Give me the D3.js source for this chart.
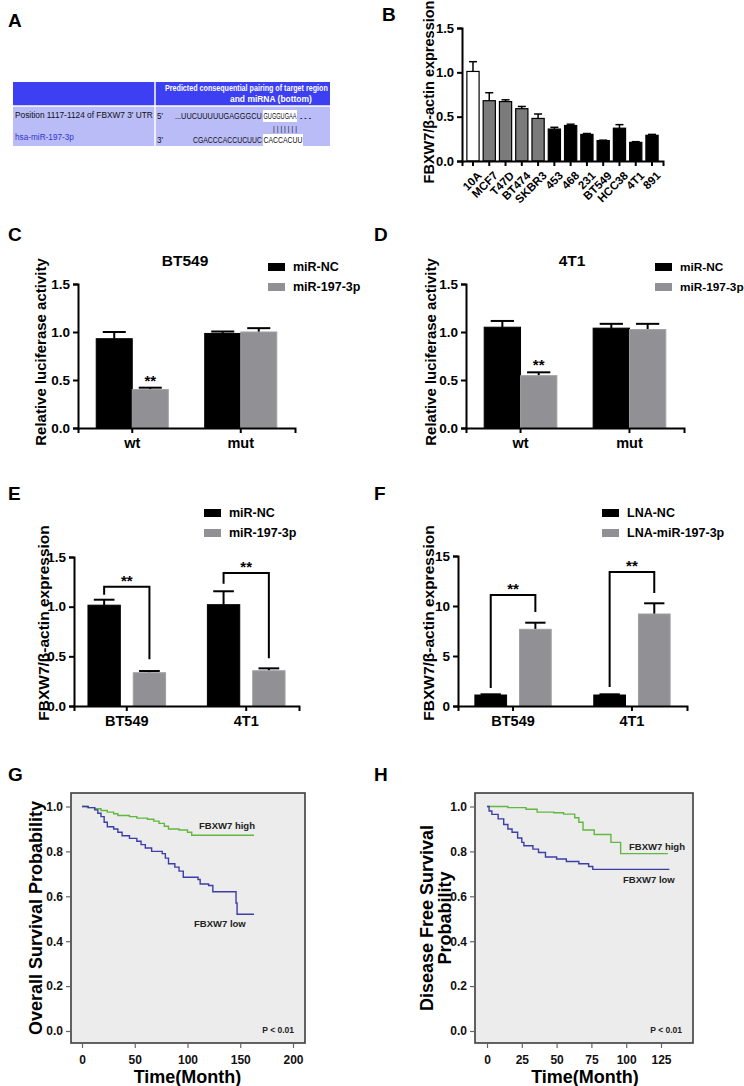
<!DOCTYPE html>
<html><head><meta charset="utf-8">
<script src="https://cdn.jsdelivr.net/npm/d3@7"></script>
<style>
body{margin:0;background:#fff}
svg{display:block}
text{font-family:"Liberation Sans",Arial,Helvetica,sans-serif}
</style>
</head><body>
<svg id="c" width="744" height="1086"></svg>
<script>
// ---------------- DATA ----------------
// Panel B
const bLines = ["10A","MCF7","T47D","BT474","SKBR3","453","468","231","BT549","HCC38","4T1","891"];
const bVals  = [1.01,0.68,0.67,0.59,0.48,0.36,0.40,0.30,0.23,0.37,0.21,0.29];
const bErrs  = [0.11,0.09,0.02,0.025,0.05,0.02,0.015,0.01,0.005,0.04,0.008,0.01];
const bType  = ["normal","luminal","luminal","luminal","luminal","basal","basal","basal","basal","basal","basal","basal"];
const yTicks15 = [0,0.5,1.0,1.5];
// Panels C / D (luciferase)
const lucGroups = ["wt","mut"];
const lucSeries = ["miR-NC","miR-197-3p"];
const cNC = [0.93,0.985], cNCerr = [0.07,0.02];
const cMiR = [0.40,1.00], cMiRerr = [0.02,0.04];
const dNC = [1.05,1.04], dNCerr = [0.065,0.045];
const dMiR = [0.545,1.025], dMiRerr = [0.035,0.06];
// Panels E / F
const cellGroups = ["BT549","4T1"];
const eNC = [1.015,1.02], eNCerr = [0.055,0.135];
const eMiR = [0.335,0.355], eMiRerr = [0.017,0.024];
const eBracketTop = [1.20,1.34], eBracketLeft = [1.12,1.23], eBracketRight = [0.47,0.48];
const lnaSeries = ["LNA-NC","LNA-miR-197-3p"];
const fNC = [1.1,1.1], fNCerr = [0.07,0.07];
const fLNA = [7.67,9.2], fLNAerr = [0.66,1.07];
const fTicks = [0,5,10,15];
const fBracketTop = [11.1,13.4], fBracketLeft = [1.8,1.9], fBracketRight = [9.4,11.3];
// Panels G / H (Kaplan-Meier, [month, survival])
const gHigh = [[0,1],[5,0.995],[12,0.99],[18,0.982],[24,0.975],[30,0.968],[34,0.96],[45,0.955],[52,0.948],[62,0.943],[68,0.935],[73,0.925],[78,0.912],[82,0.9],[92,0.895],[100,0.885],[104,0.872],[163,0.872]];
const gLow  = [[0,1],[6,0.995],[12,0.985],[15,0.97],[18,0.955],[21,0.93],[24,0.91],[30,0.9],[34,0.885],[38,0.87],[45,0.858],[52,0.845],[56,0.83],[60,0.815],[66,0.8],[76,0.79],[79,0.77],[82,0.745],[88,0.73],[92,0.712],[96,0.685],[110,0.675],[112,0.655],[120,0.648],[124,0.62],[145,0.62],[146,0.57],[147,0.52],[163,0.52]];
const hHigh = [[0,1],[15,0.995],[28,0.988],[36,0.975],[48,0.972],[55,0.966],[63,0.95],[66,0.93],[69,0.895],[77,0.875],[89,0.84],[96,0.79],[130,0.79]];
const hLow  = [[0,1],[1.5,0.98],[3.5,0.965],[8,0.945],[12,0.92],[15,0.9],[18,0.885],[22,0.86],[25,0.84],[26.5,0.825],[33,0.81],[37,0.795],[42,0.775],[50,0.766],[57,0.755],[66,0.745],[73,0.733],[76,0.72],[131,0.72]];
const gXTicks = [0,50,100,150,200];
const hXTicks = [0,25,50,75,100,125];
const kmYTicks = [0,0.2,0.4,0.6,0.8,1.0];

// ---------------- DRAW ----------------
const svg = d3.select("#c");
const FONT = '"Liberation Sans",Arial,sans-serif';
const GRAY = "#909095";

function label(t, x, y){
  svg.append("text").attr("x",x).attr("y",y).attr("font-size",19).attr("font-weight","bold").text(t);
}
function styleAxis(g, w){
  g.select(".domain").attr("stroke","#000").attr("stroke-width",w||2);
  g.selectAll(".tick line").attr("stroke","#000").attr("stroke-width",w||2);
  g.selectAll(".tick text").attr("font-family",FONT).attr("font-weight","bold").attr("fill","#000");
}
function yTitle(t, x, y, fs){
  svg.append("text").attr("transform",`translate(${x},${y}) rotate(-90)`).attr("text-anchor","middle")
    .attr("font-size",fs||15).attr("font-weight","bold").text(t);
}
// text squeezed horizontally to an exact width
function fitText(g, str, x, y, width, fs, opts){
  const t = g.append("text").attr("x",0).attr("y",0).attr("font-size",fs).text(str);
  if(opts){ Object.entries(opts).forEach(([k,v])=>t.attr(k,v)); }
  const len = t.node().getComputedTextLength();
  t.attr("transform",`translate(${x},${y}) scale(${width/len},1)`);
  return t;
}

// ---- Panel A: table ----
label("A", 8, 27);
(function(){
  const g = svg.append("g");
  g.append("rect").attr("x",13).attr("y",82).attr("width",317).attr("height",24).attr("fill","#3c3ff2");
  g.append("rect").attr("x",13).attr("y",106).attr("width",317).attr("height",40).attr("fill","#b9bcf7");
  g.append("line").attr("x1",155).attr("x2",155).attr("y1",82).attr("y2",146).attr("stroke","#fff").attr("stroke-width",1.5);
  g.append("line").attr("x1",13).attr("x2",330).attr("y1",106).attr("y2",106).attr("stroke","#fff").attr("stroke-width",1.5);
  const hb = {"font-weight":"bold", fill:"#fff"};
  fitText(g,"Predicted consequential pairing of target region",165,91,163,8.5,hb);
  fitText(g,"and miRNA (bottom)",230,102,82,8.5,hb);
  fitText(g,"Position 1117-1124 of FBXW7 3' UTR",15,118,138,9,{fill:"#111"});
  fitText(g,"hsa-miR-197-3p",15,140,59,9,{fill:"#3434c8"});
  // highlights
  g.append("rect").attr("x",263).attr("y",110).attr("width",34).attr("height",12).attr("fill","#fff");
  g.append("rect").attr("x",263).attr("y",134).attr("width",40).attr("height",12).attr("fill","#fff");
  const so = {fill:"#111"};
  fitText(g,"5'",157,119,6,9,so);
  fitText(g,"...UUCUUUUUGAGGGCU",175,119,87,9,so);
  fitText(g,"GUGGUGAA",263.5,119,33,9,so);
  fitText(g,"...",299,119,13,9,so);
  fitText(g,"| | | | | | |",273,131,24,8,so);
  fitText(g,"3'",157,143,6,9,so);
  fitText(g,"CGACCCACCUCUUC",193,143,69,9,so);
  fitText(g,"CACCACUU",263.5,143,39,9,so);
})();

// ---- Panel B ----
label("B", 382, 21);
(function(){
  const x = d3.scaleBand().domain(bLines).range([462,663]).paddingInner(0.25).paddingOuter(0.3);
  const y = d3.scaleLinear().domain([0,1.5]).range([161,28]);
  const fill = {normal:"#fff", luminal:"#7b7b7b", basal:"#000"};
  const g = svg.append("g");
  bLines.forEach((k,i)=>{
    const cx = x(k)+x.bandwidth()/2;
    g.append("line").attr("x1",cx).attr("x2",cx).attr("y1",y(bVals[i])).attr("y2",y(bVals[i]+bErrs[i])).attr("stroke","#000").attr("stroke-width",1.5);
    g.append("line").attr("x1",cx-4).attr("x2",cx+4).attr("y1",y(bVals[i]+bErrs[i])).attr("y2",y(bVals[i]+bErrs[i])).attr("stroke","#000").attr("stroke-width",1.5);
    g.append("rect").attr("x",x(k)).attr("y",y(bVals[i])).attr("width",x.bandwidth()).attr("height",y(0)-y(bVals[i]))
      .attr("fill",fill[bType[i]]).attr("stroke","#000").attr("stroke-width",1.2);
  });
  const ya = svg.append("g").attr("transform","translate(462,0)").call(d3.axisLeft(y).tickValues(yTicks15).tickFormat(d3.format(".1f")).tickSizeOuter(0).tickSize(5));
  styleAxis(ya); ya.selectAll(".tick text").attr("font-size",13);
  const xa = svg.append("g").attr("transform","translate(0,161)").call(d3.axisBottom(x).tickSizeOuter(0).tickSize(5));
  styleAxis(xa);
  xa.selectAll(".tick text").attr("font-size",11.5).attr("text-anchor","end")
    .attr("transform","translate(-2,4) rotate(-45)").attr("dy","0.7em").attr("dx","0");
  yTitle("FBXW7/β-actin expression", 434, 92, 14.5);
})();

// ---- grouped bar helper ----
function grouped(o){
  const x = d3.scaleBand().domain(o.groups).range([o.x0,o.x1]).paddingInner(o.pi).paddingOuter(o.po);
  const xi = d3.scaleBand().domain(o.series).range([0,x.bandwidth()]).paddingInner(o.pi2||0);
  const y = d3.scaleLinear().domain([0,o.ymax]).range([o.yb,o.yt]);
  const g = svg.append("g");
  o.groups.forEach((grp,gi)=>{
    o.series.forEach((s,si)=>{
      const v = o.vals[si][gi], e = o.errs[si][gi];
      const bx = x(grp)+xi(s), bw = xi.bandwidth(), cx = bx+bw/2;
      g.append("line").attr("x1",cx).attr("x2",cx).attr("y1",y(v)).attr("y2",y(v+e)).attr("stroke","#000").attr("stroke-width",2);
      g.append("line").attr("x1",cx-bw*0.32).attr("x2",cx+bw*0.32).attr("y1",y(v+e)).attr("y2",y(v+e)).attr("stroke","#000").attr("stroke-width",2);
      g.append("rect").attr("x",bx).attr("y",y(v)).attr("width",bw).attr("height",y(0)-y(v))
        .attr("fill",o.colors[si]).attr("stroke",si===0?"#000":"#a0a0a4").attr("stroke-width",1);
    });
  });
  const ya = svg.append("g").attr("transform",`translate(${o.x0},0)`).call(d3.axisLeft(y).tickValues(o.yticks).tickFormat(o.fmt).tickSizeOuter(0).tickSize(5));
  styleAxis(ya); ya.selectAll(".tick text").attr("font-size",13.5);
  const xa = svg.append("g").attr("transform",`translate(0,${o.yb})`).call(d3.axisBottom(x).tickSizeOuter(0).tickSize(5));
  styleAxis(xa); xa.selectAll(".tick text").attr("font-size",14.5).attr("dy","0.85em");
  return {x,xi,y};
}
function legend(x, y, names, colors, fs){
  names.forEach((n,i)=>{
    svg.append("rect").attr("x",x).attr("y",y+i*20).attr("width",17).attr("height",8).attr("fill",colors[i]);
    svg.append("text").attr("x",x+25).attr("y",y+i*20+8).attr("font-size",fs||12.5).attr("font-weight","bold").text(n);
  });
}
function stars(x,y){
  svg.append("text").attr("x",x).attr("y",y).attr("text-anchor","middle").attr("font-size",15).attr("font-weight","bold").text("**");
}

// ---- Panel C ----
label("C", 8, 241);
(function(){
  const s = grouped({groups:lucGroups, series:lucSeries, vals:[cNC,cMiR], errs:[cNCerr,cMiRerr], colors:["#000",GRAY],
    x0:78, x1:295, pi:0.336, po:0.168, yb:428, yt:284, ymax:1.5, yticks:yTicks15, fmt:d3.format(".1f")});
  stars(s.x("wt")+s.xi("miR-197-3p")+s.xi.bandwidth()/2, s.y(cMiR[0]+cMiRerr[0])-2);
  svg.append("text").attr("x",185).attr("y",266).attr("text-anchor","middle").attr("font-size",15.5).attr("font-weight","bold").text("BT549");
  legend(268, 263, lucSeries, ["#000",GRAY]);
  yTitle("Relative luciferase activity", 46, 352, 15);
})();

// ---- Panel D ----
label("D", 374, 241);
(function(){
  const s = grouped({groups:lucGroups, series:lucSeries, vals:[dNC,dMiR], errs:[dNCerr,dMiRerr], colors:["#000",GRAY],
    x0:466, x1:684, pi:0.333, po:0.167, yb:428, yt:284, ymax:1.5, yticks:yTicks15, fmt:d3.format(".1f")});
  stars(s.x("wt")+s.xi("miR-197-3p")+s.xi.bandwidth()/2, s.y(dMiR[0]+dMiRerr[0])-2);
  svg.append("text").attr("x",572).attr("y",266).attr("text-anchor","middle").attr("font-size",15.5).attr("font-weight","bold").text("4T1");
  legend(655, 263, lucSeries, ["#000",GRAY], 11.8);
  yTitle("Relative luciferase activity", 436, 352, 15);
})();

function brackets(s, top, left, right, series){
  s.x.domain().forEach((grp,i)=>{
    const xl = s.x(grp)+s.xi(series[0])+s.xi.bandwidth()/2;
    const xr = s.x(grp)+s.xi(series[1])+s.xi.bandwidth()/2;
    svg.append("path").attr("d",`M${xl},${s.y(left[i])}V${s.y(top[i])}H${xr}V${s.y(right[i])}`)
      .attr("fill","none").attr("stroke","#000").attr("stroke-width",2);
    stars((xl+xr)/2, s.y(top[i])-1);
  });
}

// ---- Panel E ----
label("E", 8, 500);
(function(){
  const s = grouped({groups:cellGroups, series:lucSeries, vals:[eNC,eMiR], errs:[eNCerr,eMiRerr], colors:["#000",GRAY],
    x0:74, x1:299, pi:0.35, po:0.117, pi2:0.286, yb:706, yt:557, ymax:1.5, yticks:yTicks15, fmt:d3.format(".1f")});
  brackets(s, eBracketTop, eBracketLeft, eBracketRight, lucSeries);
  legend(204, 509, lucSeries, ["#000",GRAY]);
  yTitle("FBXW7/β-actin expression", 49, 623, 15.5);
})();

// ---- Panel F ----
label("F", 374, 500);
(function(){
  const s = grouped({groups:cellGroups, series:lnaSeries, vals:[fNC,fLNA], errs:[fNCerr,fLNAerr], colors:["#000",GRAY],
    x0:458, x1:687, pi:0.358, po:0.142, pi2:0.29, yb:706, yt:556, ymax:15, yticks:fTicks, fmt:d3.format("d")});
  brackets(s, fBracketTop, fBracketLeft, fBracketRight, lnaSeries);
  legend(602, 509, lnaSeries, ["#000",GRAY]);
  yTitle("FBXW7/β-actin expression", 434, 623, 15.5);
})();

// ---- KM helper ----
function km(o){
  const x = d3.scaleLinear().domain(o.xd).range(o.xr);
  const y = d3.scaleLinear().domain([0,1]).range([1031,806.5]);
  svg.append("rect").attr("x",o.bx0).attr("y",793).attr("width",o.bx1-o.bx0).attr("height",250)
    .attr("fill","#ececec").attr("stroke","#3c3c3c").attr("stroke-width",1.6);
  const ya = svg.append("g").attr("transform",`translate(${o.bx0},0)`).call(d3.axisLeft(y).tickValues(kmYTicks).tickFormat(d3.format(".1f")).tickSize(5));
  ya.select(".domain").remove();
  ya.selectAll(".tick line").attr("stroke","#666").attr("stroke-width",1.2);
  ya.selectAll(".tick text").attr("font-size",12).attr("font-weight","bold").attr("fill","#111").attr("font-family",FONT).attr("x",-8);
  const xa = svg.append("g").attr("transform",`translate(0,1043)`).call(d3.axisBottom(x).tickValues(o.xt).tickSize(5));
  xa.select(".domain").remove();
  xa.selectAll(".tick line").attr("stroke","#666").attr("stroke-width",1.2);
  xa.selectAll(".tick text").attr("font-size",12).attr("font-weight","bold").attr("fill","#111").attr("font-family",FONT).attr("dy","1.05em");
  const line = d3.line().x(d=>x(d[0])).y(d=>y(d[1])).curve(d3.curveStepAfter);
  svg.append("path").datum(o.high).attr("d",line).attr("fill","none").attr("stroke","#62b83f").attr("stroke-width",1.4);
  svg.append("path").datum(o.low).attr("d",line).attr("fill","none").attr("stroke","#3d3da8").attr("stroke-width",1.4);
  const t = (s,xx,yy)=>svg.append("text").attr("x",xx).attr("y",yy).attr("font-size",9.5).attr("font-weight","bold").attr("fill","#222").text(s);
  t("FBXW7 high", o.hl[0], o.hl[1]); t("FBXW7 low", o.ll[0], o.ll[1]);
  svg.append("text").attr("x",o.bx1-11).attr("y",1033).attr("text-anchor","end").attr("font-size",8.5).attr("font-weight","bold").attr("fill","#222").text("P < 0.01");
  svg.append("text").attr("x",(o.xr[0]+o.xr[1])/2 + o.xtOff).attr("y",1083).attr("text-anchor","middle").attr("font-size",18).attr("font-weight","bold").text("Time(Month)");
}
label("G", 8, 781);
km({xd:[0,200], xr:[82,293], bx0:71, bx1:305, xt:gXTicks, high:gHigh, low:gLow, hl:[199,829], ll:[194,927], xtOff:0});
yTitle("Overall Survival Probability", 42, 918, 18);
label("H", 374, 781);
km({xd:[0,125], xr:[487,661], bx0:475, bx1:693, xt:hXTicks, high:hHigh, low:hLow, hl:[629,850], ll:[623,883], xtOff:11});
svg.append("text").attr("transform","translate(433,918) rotate(-90)").attr("text-anchor","middle").attr("font-size",18).attr("font-weight","bold").text("Disease Free Survival");
svg.append("text").attr("transform","translate(451,918) rotate(-90)").attr("text-anchor","middle").attr("font-size",18).attr("font-weight","bold").text("Probability");
</script>
</body></html>
